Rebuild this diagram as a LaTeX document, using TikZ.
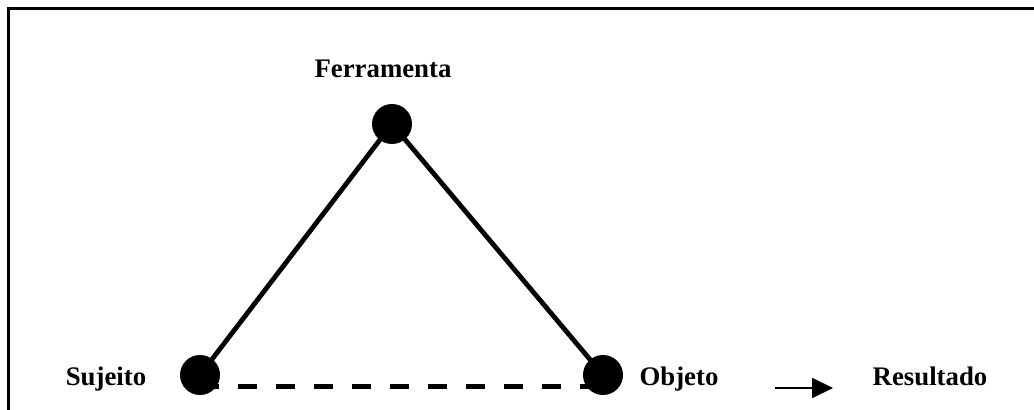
\documentclass[tikz,border=0pt]{standalone}
\usepackage{fontspec}
\setmainfont{Liberation Serif}
\usetikzlibrary{arrows.meta,positioning}
\pgfdeclarelayer{background}
\pgfsetlayers{background,main}

\begin{document}
\begin{tikzpicture}[
            x=0.5pt,y=-0.5pt,
            dot/.style={circle,fill=black,inner sep=0pt,minimum size=20pt},
            lbl/.style={anchor=base,inner sep=0pt,font=\fontsize{13.4}{15}\selectfont\bfseries},
            side/.style={line width=2.4pt},
            >={Triangle[length=10.5pt,width=10pt]}
        ]
        \useasboundingbox (0,0) rectangle (1034,410);

        % Frame %
        \draw[line width=1.5pt] (8.5,410) -- (8.5,8.5) -- (1034,8.5);

        % Draw vertices %
        \node[dot] (ferramenta) at (392,124) {};
        \node[dot] (sujeito) at (200,375) {};
        \node[dot] (objeto) at (603,375) {};

        % Labels %
        \node[lbl] (fLabel) at (383,78) {Ferramenta};
        \node[lbl] (sLabel) at (106,386) {Sujeito};
        \node[lbl] (oLabel) at (679,386) {Objeto};
        \node[lbl] (rLabel) at (930,386) {Resultado};

        % Draw sides %
        \draw[side] (ferramenta.center) -- (sujeito.center);
        \draw[side] (ferramenta.center) -- (objeto.center);
        \begin{pgfonlayer}{background}
            \coordinate (dStart) at (200,387);
            \coordinate (dEnd) at (603,387);
            \draw[line width=2.5pt,dash pattern=on 9.5pt off 9.5pt] (dStart) -- (dEnd);
        \end{pgfonlayer}

        % Result arrow %
        \coordinate (aStart) at (775,388);
        \coordinate (aEnd) at (833,388);
        \draw[->,line width=1pt] (aStart) -- (aEnd);
\end{tikzpicture}
\end{document}
